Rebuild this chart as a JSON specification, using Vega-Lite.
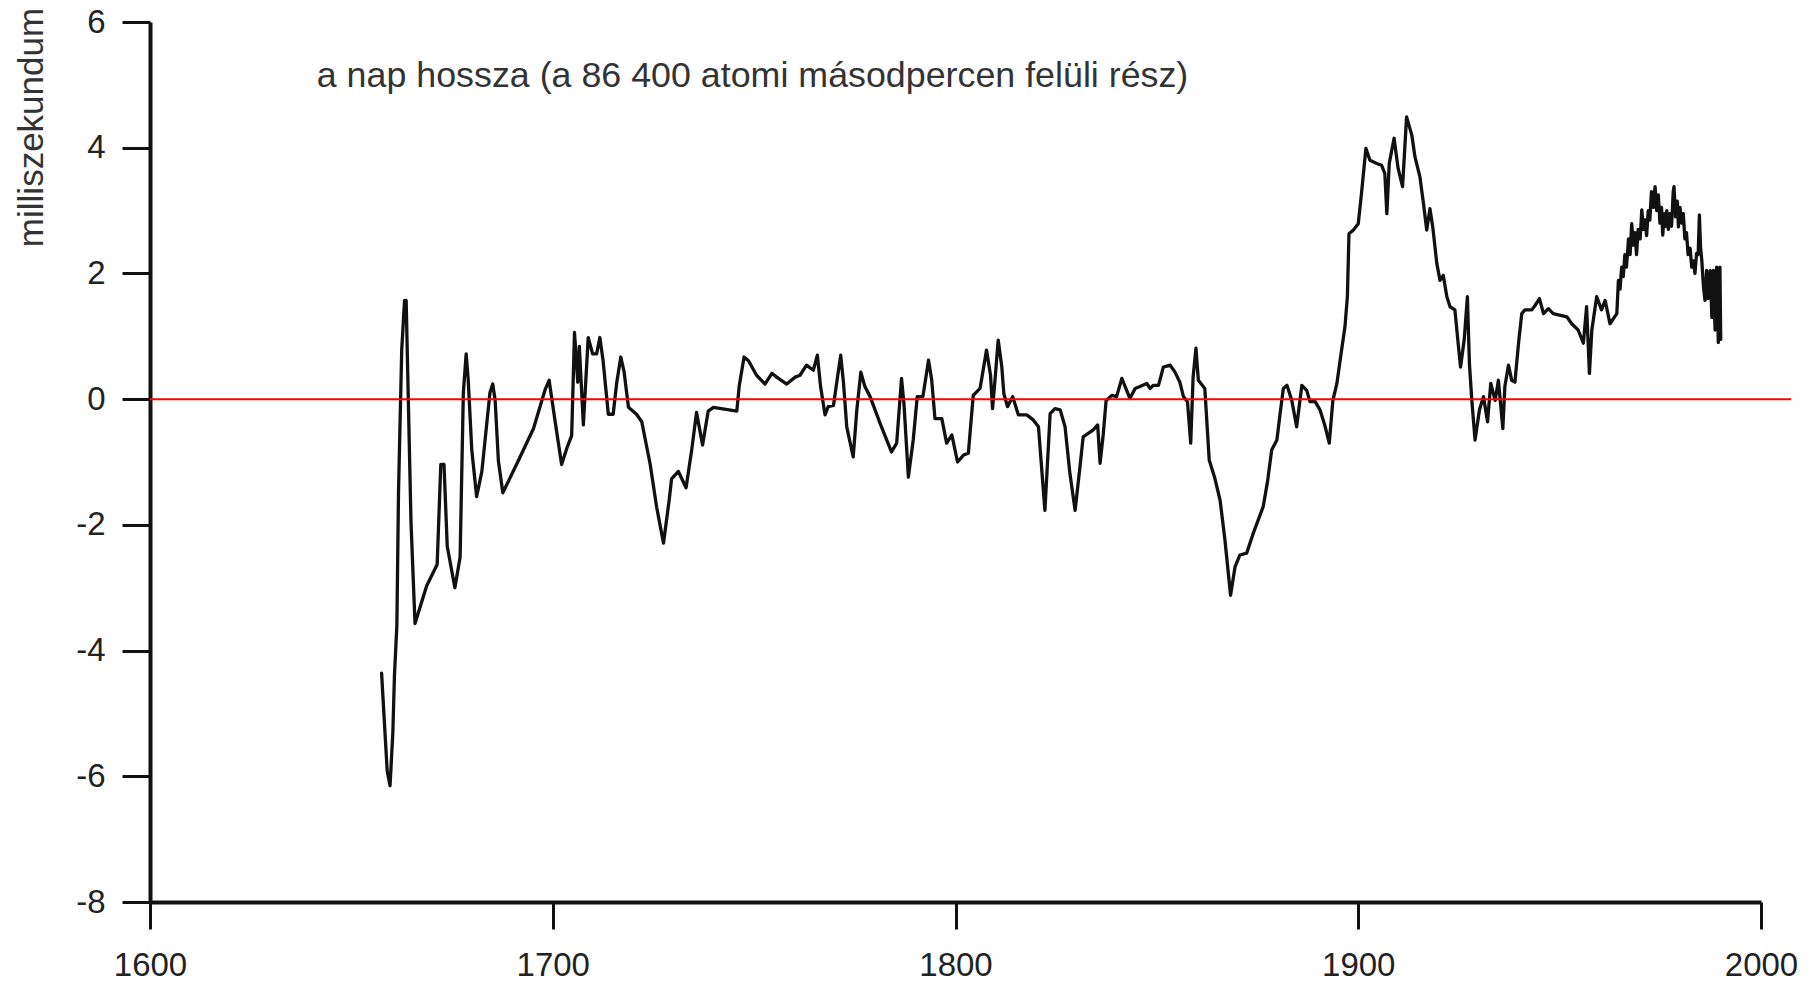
{
  "$schema": "https://vega.github.io/schema/vega-lite/v6.json",
  "width": 1611,
  "height": 880,
  "autosize": {"type": "none"},
  "padding": {"left": 150, "top": 22, "right": 53, "bottom": 80},
  "background": "white",
  "config": {"view": {"stroke": null}, "font": "Liberation Sans"},
  "datasets": {
    "lod": [
      {"year":1657.5,"v":-4.36},{"year":1658.9,"v":-5.92},{"year":1659.6,"v":-6.15},{"year":1660.3,"v":-5.30},{"year":1660.7,"v":-4.39},{"year":1661.3,"v":-3.59},{"year":1661.7,"v":-1.49},{"year":1662.5,"v":0.78},{"year":1663.2,"v":1.57},{"year":1663.6,"v":1.57},{"year":1664.2,"v":-0.19},{"year":1664.8,"v":-1.95},{"year":1665.8,"v":-3.57},{"year":1668.7,"v":-2.97},{"year":1671.3,"v":-2.63},{"year":1672.2,"v":-1.04},{"year":1673.0,"v":-1.04},{"year":1673.8,"v":-2.34},{"year":1675.7,"v":-3.00},{"year":1677.0,"v":-2.51},{"year":1677.8,"v":0.10},{"year":1678.5,"v":0.72},{"year":1679.0,"v":0.32},{"year":1679.9,"v":-0.81},{"year":1681.1,"v":-1.55},{"year":1682.4,"v":-1.15},{"year":1684.4,"v":0.10},{"year":1685.1,"v":0.24},{"year":1685.7,"v":-0.02},{"year":1686.5,"v":-0.98},{"year":1687.6,"v":-1.49},{"year":1691.0,"v":-1.04},{"year":1695.2,"v":-0.47},{"year":1698.1,"v":0.15},{"year":1699.1,"v":0.30},{"year":1700.6,"v":-0.36},{"year":1702.2,"v":-1.04},{"year":1703.5,"v":-0.78},{"year":1704.7,"v":-0.58},{"year":1705.4,"v":1.06},{"year":1706.2,"v":0.27},{"year":1706.6,"v":0.84},{"year":1707.6,"v":-0.41},{"year":1708.8,"v":0.98},{"year":1709.9,"v":0.72},{"year":1710.9,"v":0.72},{"year":1711.7,"v":0.98},{"year":1712.5,"v":0.61},{"year":1713.8,"v":-0.24},{"year":1715.0,"v":-0.24},{"year":1715.9,"v":0.27},{"year":1716.9,"v":0.67},{"year":1717.7,"v":0.44},{"year":1718.8,"v":-0.13},{"year":1720.8,"v":-0.24},{"year":1722.1,"v":-0.36},{"year":1724.2,"v":-1.04},{"year":1725.8,"v":-1.72},{"year":1727.5,"v":-2.29},{"year":1728.9,"v":-1.61},{"year":1729.5,"v":-1.27},{"year":1731.2,"v":-1.15},{"year":1733.1,"v":-1.41},{"year":1734.5,"v":-0.81},{"year":1735.7,"v":-0.21},{"year":1737.2,"v":-0.73},{"year":1738.6,"v":-0.19},{"year":1739.9,"v":-0.13},{"year":1745.7,"v":-0.19},{"year":1746.3,"v":0.21},{"year":1747.5,"v":0.67},{"year":1748.6,"v":0.61},{"year":1750.6,"v":0.38},{"year":1752.7,"v":0.24},{"year":1754.4,"v":0.41},{"year":1755.6,"v":0.35},{"year":1758.1,"v":0.24},{"year":1760.2,"v":0.35},
      {"year":1761.4,"v":0.38},{"year":1763.0,"v":0.54},{"year":1764.7,"v":0.46},{"year":1765.7,"v":0.70},{"year":1766.5,"v":0.20},{"year":1767.6,"v":-0.25},{"year":1768.4,"v":-0.12},{"year":1769.7,"v":-0.10},{"year":1770.7,"v":0.35},{"year":1771.5,"v":0.70},{"year":1772.2,"v":0.25},{"year":1773.0,"v":-0.44},{"year":1774.6,"v":-0.92},{"year":1775.5,"v":-0.17},{"year":1776.5,"v":0.43},{"year":1777.5,"v":0.20},{"year":1778.8,"v":0.04},{"year":1781.3,"v":-0.39},{"year":1784.1,"v":-0.84},{"year":1785.4,"v":-0.70},{"year":1786.6,"v":0.33},{"year":1787.2,"v":-0.07},{"year":1788.3,"v":-1.24},{"year":1789.5,"v":-0.65},{"year":1790.5,"v":0.04},{"year":1791.9,"v":0.04},{"year":1793.3,"v":0.62},{"year":1794.1,"v":0.30},{"year":1794.9,"v":-0.31},{"year":1796.6,"v":-0.31},{"year":1797.8,"v":-0.70},{"year":1799.1,"v":-0.57},{"year":1800.5,"v":-1.00},{"year":1802.0,"v":-0.89},{"year":1803.2,"v":-0.86},{"year":1804.4,"v":0.06},{"year":1806.1,"v":0.17},{"year":1807.7,"v":0.78},{"year":1808.7,"v":0.38},{"year":1809.2,"v":-0.15},{"year":1809.8,"v":0.30},{"year":1810.6,"v":0.94},{"year":1811.5,"v":0.51},{"year":1812.0,"v":0.09},{"year":1812.9,"v":-0.12},{"year":1814.2,"v":0.04},{"year":1815.6,"v":-0.25},{"year":1817.7,"v":-0.25},{"year":1819.3,"v":-0.33},{"year":1820.6,"v":-0.44},{"year":1822.2,"v":-1.77},{"year":1823.5,"v":-0.23},{"year":1824.7,"v":-0.15},{"year":1826.0,"v":-0.17},{"year":1827.2,"v":-0.44},{"year":1828.4,"v":-1.18},{"year":1829.7,"v":-1.77},{"year":1830.9,"v":-1.08},{"year":1831.7,"v":-0.60},{"year":1834.2,"v":-0.49},{"year":1835.3,"v":-0.41},{"year":1835.9,"v":-1.02},{"year":1836.7,"v":-0.55},{"year":1837.4,"v":-0.02},{"year":1838.8,"v":0.06},{"year":1840.0,"v":0.04},{"year":1841.3,"v":0.33},{"year":1842.5,"v":0.14},{"year":1843.3,"v":0.01},{"year":1844.6,"v":0.17},{"year":1845.8,"v":0.20},{"year":1847.5,"v":0.25},{"year":1848.3,"v":0.17},{"year":1849.1,"v":0.22},{"year":1850.4,"v":0.22},{"year":1851.6,"v":0.51},{"year":1853.3,"v":0.54},{"year":1854.5,"v":0.43},{"year":1855.7,"v":0.27},{"year":1856.6,"v":0.04},{"year":1857.6,"v":-0.04},{"year":1858.4,"v":-0.70},{"year":1859.0,"v":0.35},{"year":1859.7,"v":0.81},{"year":1860.3,"v":0.30},{"year":1861.9,"v":0.17},{"year":1863.0,"v":-0.97},{"year":1864.4,"v":-1.26},{"year":1865.7,"v":-1.61},{"year":1866.9,"v":-2.24},{"year":1868.3,"v":-3.12},{"year":1869.4,"v":-2.67},{"year":1870.6,"v":-2.48},{"year":1872.3,"v":-2.45},{"year":1873.9,"v":-2.14},{"year":1876.4,"v":-1.71},
      {"year":1877.5,"v":-1.30},{"year":1878.5,"v":-0.81},{"year":1879.8,"v":-0.65},{"year":1880.6,"v":-0.23},{"year":1881.4,"v":0.17},{"year":1882.3,"v":0.22},{"year":1883.5,"v":-0.02},{"year":1884.7,"v":-0.44},{"year":1886.0,"v":0.22},{"year":1887.2,"v":0.14},{"year":1888.0,"v":-0.04},{"year":1889.3,"v":-0.04},{"year":1890.5,"v":-0.17},{"year":1891.8,"v":-0.44},{"year":1892.8,"v":-0.70},{"year":1893.7,"v":-0.02},{"year":1894.7,"v":0.25},{"year":1895.5,"v":0.62},{"year":1896.7,"v":1.15},{"year":1897.3,"v":1.63},{"year":1897.7,"v":2.63},{"year":1898.8,"v":2.69},{"year":1900.0,"v":2.79},{"year":1900.8,"v":3.27},{"year":1901.9,"v":3.99},{"year":1902.9,"v":3.80},{"year":1904.6,"v":3.75},{"year":1905.8,"v":3.72},{"year":1906.6,"v":3.59},{"year":1907.1,"v":2.95},{"year":1907.7,"v":3.75},{"year":1908.9,"v":4.15},{"year":1909.9,"v":3.67},{"year":1911.0,"v":3.38},{"year":1912.0,"v":4.49},{"year":1913.3,"v":4.20},{"year":1914.1,"v":3.85},{"year":1915.3,"v":3.54},{"year":1916.2,"v":3.11},{"year":1917.0,"v":2.69},{"year":1917.8,"v":3.03},{"year":1918.5,"v":2.74},{"year":1919.5,"v":2.16},{"year":1920.3,"v":1.89},{"year":1921.1,"v":1.97},{"year":1922.0,"v":1.63},{"year":1922.8,"v":1.47},{"year":1924.0,"v":1.42},{"year":1924.8,"v":0.89},{"year":1925.4,"v":0.51},{"year":1926.3,"v":0.94},{"year":1927.1,"v":1.63},{"year":1927.6,"v":0.57},{"year":1928.2,"v":-0.02},{"year":1929.0,"v":-0.65},{"year":1930.1,"v":-0.17},{"year":1931.1,"v":0.04},{"year":1932.1,"v":-0.36},{"year":1932.9,"v":0.25},{"year":1934.0,"v":-0.02},{"year":1934.8,"v":0.30},{"year":1935.9,"v":-0.47},{"year":1936.4,"v":0.20},{"year":1937.3,"v":0.54},{"year":1938.1,"v":0.30},{"year":1938.9,"v":0.27},{"year":1939.8,"v":0.89},{"year":1940.6,"v":1.36},{"year":1941.4,"v":1.42},{"year":1943.1,"v":1.42},{"year":1943.9,"v":1.49},{"year":1945.0,"v":1.60},{"year":1946.0,"v":1.36},{"year":1947.2,"v":1.44},{"year":1948.4,"v":1.36},{"year":1949.7,"v":1.34},{"year":1951.8,"v":1.31},{"year":1953.0,"v":1.20},{"year":1954.6,"v":1.10},{"year":1955.9,"v":0.89},{"year":1956.7,"v":1.47},{"year":1957.4,"v":0.41},{"year":1958.0,"v":1.10},{"year":1959.2,"v":1.63},{"year":1960.4,"v":1.42},{"year":1961.3,"v":1.57},{"year":1962.5,"v":1.20},{"year":1964.2,"v":1.36},
      {"year":1964.6,"v":1.89},{"year":1965.0,"v":1.75},{"year":1965.4,"v":2.10},{"year":1965.8,"v":1.95},{"year":1966.2,"v":2.30},{"year":1966.6,"v":2.10},{"year":1967.1,"v":2.55},{"year":1967.5,"v":2.30},{"year":1967.9,"v":2.79},{"year":1968.3,"v":2.45},{"year":1968.7,"v":2.65},{"year":1969.1,"v":2.30},{"year":1969.5,"v":2.70},{"year":1970.0,"v":2.55},{"year":1970.4,"v":3.01},{"year":1970.8,"v":2.70},{"year":1971.2,"v":2.85},{"year":1971.6,"v":2.60},{"year":1972.0,"v":3.00},{"year":1972.4,"v":2.85},{"year":1972.8,"v":3.30},{"year":1973.3,"v":3.05},{"year":1973.7,"v":3.38},{"year":1974.1,"v":3.00},{"year":1974.5,"v":3.25},{"year":1974.9,"v":2.80},{"year":1975.3,"v":3.05},{"year":1975.6,"v":2.61},{"year":1976.0,"v":2.95},{"year":1976.3,"v":2.75},{"year":1976.6,"v":3.00},{"year":1977.0,"v":2.70},{"year":1977.4,"v":2.95},{"year":1977.8,"v":2.75},{"year":1978.2,"v":3.30},{"year":1978.4,"v":3.38},{"year":1978.8,"v":2.90},{"year":1979.2,"v":3.15},{"year":1979.5,"v":2.74},{"year":1979.9,"v":3.05},{"year":1980.3,"v":2.80},{"year":1980.7,"v":2.95},{"year":1981.1,"v":2.55},{"year":1981.5,"v":2.65},{"year":1981.9,"v":2.30},{"year":1982.4,"v":2.40},{"year":1982.8,"v":2.10},{"year":1983.2,"v":2.20},{"year":1983.6,"v":2.00},{"year":1984.0,"v":2.32},{"year":1984.4,"v":2.30},{"year":1984.7,"v":2.93},{"year":1985.0,"v":2.40},{"year":1985.3,"v":2.21},{"year":1985.7,"v":1.80},{"year":1986.1,"v":1.57},{"year":1986.5,"v":2.05},{"year":1986.9,"v":1.60},{"year":1987.4,"v":2.05},{"year":1987.8,"v":1.30},{"year":1988.2,"v":2.05},{"year":1988.6,"v":1.10},{"year":1989.0,"v":2.10},{"year":1989.4,"v":0.90},{"year":1989.8,"v":2.10},{"year":1990.0,"v":0.95}
    ]
  },
  "layer": [
    {
      "data": {"name": "lod"},
      "mark": {"type": "line", "color": "#111111", "strokeWidth": 3.3, "strokeJoin": "round", "strokeCap": "round"},
      "encoding": {
        "x": {
          "field": "year", "type": "quantitative",
          "scale": {"domain": [1600, 2000], "nice": false, "zero": false},
          "axis": {
            "values": [1600, 1700, 1800, 1900, 2000],
            "title": null, "grid": false,
            "domainColor": "#111111", "domainWidth": 4,
            "tickColor": "#111111", "tickWidth": 3, "tickSize": 27,
            "labelFontSize": 33, "labelColor": "#222222", "labelPadding": 20,
            "labelFlush": false, "labelOverlap": false, "labelBound": false,
            "labelExpr": "'' + datum.value"
          }
        },
        "y": {
          "field": "v", "type": "quantitative",
          "scale": {"domain": [-8, 6], "nice": false, "zero": false},
          "axis": {
            "values": [-8, -6, -4, -2, 0, 2, 4, 6],
            "title": "milliszekundum", "grid": false,
            "domainColor": "#111111", "domainWidth": 4,
            "tickColor": "#111111", "tickWidth": 3, "tickSize": 28,
            "labelFontSize": 33, "labelColor": "#222222", "labelPadding": 17,
            "labelFlush": false, "labelOverlap": false, "labelBound": false,
            "labelExpr": "'' + datum.value",
            "titleFontSize": 35, "titleFontWeight": "normal", "titleColor": "#333333",
            "titleAngle": 270, "titleAlign": "center", "titleBaseline": "alphabetic",
            "titleX": -108, "titleY": 105
          }
        }
      }
    },
    {
      "data": {"values": [{"start": 1600, "end": 2007.5, "level": 0}]},
      "mark": {"type": "rule", "color": "#ff0000", "strokeWidth": 2},
      "encoding": {
        "x": {"field": "start", "type": "quantitative", "scale": {"domain": [1600, 2000], "nice": false, "zero": false}},
        "x2": {"field": "end"},
        "y": {"field": "level", "type": "quantitative"}
      }
    },
    {
      "data": {"values": [{"label": "a nap hossza (a 86 400 atomi másodpercen felüli rész)", "lx": 1641.4, "ly": 4.96}]},
      "mark": {"type": "text", "align": "left", "baseline": "alphabetic", "fontSize": 35.8, "color": "#333333"},
      "encoding": {
        "x": {"field": "lx", "type": "quantitative"},
        "y": {"field": "ly", "type": "quantitative"},
        "text": {"field": "label"}
      }
    }
  ]
}
